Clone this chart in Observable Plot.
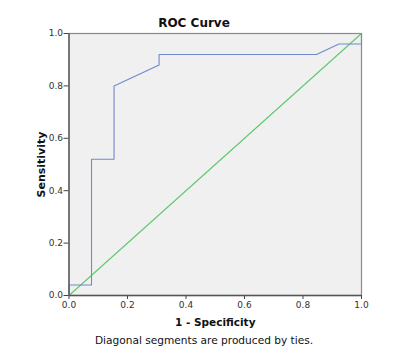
<!DOCTYPE html>
<html>
<head>
<meta charset="utf-8">
<script src="https://cdn.jsdelivr.net/npm/d3@7"></script>
<script src="https://cdn.jsdelivr.net/npm/@observablehq/plot@0.6"></script>
<style>
  html, body { margin: 0; padding: 0; background: white; }
  #wrap { position: relative; width: 407px; height: 358px; font-family: "DejaVu Sans", sans-serif; }
  #title { position: absolute; left: 0; width: 388px; top: 16px; text-align: center; font-weight: bold; font-size: 12px; color: #111; }
  #caption { position: absolute; left: 0; width: 408px; top: 334px; text-align: center; font-size: 10.6px; color: #111; }
  [aria-label="y-axis label"] text { font-weight: bold; font-size: 11px; fill: #111; }
  [aria-label="x-axis label"] text { font-weight: bold; font-size: 10.5px; fill: #111; }
</style>
</head>
<body>
<div id="wrap">
  <div id="chart"></div>
  <div id="title">ROC Curve</div>
  <div id="caption">Diagonal segments are produced by ties.</div>
</div>
<script>
const specComp = [0, 0, 0.077, 0.077, 0.154, 0.154, 0.308, 0.308, 0.846, 0.923, 1, 1];
const sensitivity = [0, 0.04, 0.04, 0.52, 0.52, 0.80, 0.88, 0.92, 0.92, 0.96, 0.96, 1];
const refX = [0, 1];
const refY = [0, 1];
const tickValues = [0, 0.2, 0.4, 0.6, 0.8, 1.0];

const roc = specComp.map((x, i) => ({x, y: sensitivity[i]}));
const ref = refX.map((x, i) => ({x, y: refY[i]}));

const chart = Plot.plot({
  width: 407,
  height: 358,
  marginLeft: 68.5,
  marginRight: 46,
  marginTop: 33,
  marginBottom: 63,
  style: { fontFamily: "DejaVu Sans, sans-serif", fontSize: "9px", color: "#333", background: "transparent" },
  x: { domain: [0, 1] },
  y: { domain: [0, 1] },
  marks: [
    Plot.frame({ fill: "#f0f0f0", stroke: "#8a8a8a", strokeWidth: 1.2 }),
    Plot.line(ref, { x: "x", y: "y", stroke: "#5ec96c", strokeWidth: 1.1 }),
    Plot.line(roc, { x: "x", y: "y", stroke: "#7189cd", strokeWidth: 1.1 }),
    Plot.axisX({ ticks: tickValues, tickFormat: ".1f", tickSize: 4, tickPadding: 2, stroke: "#444", label: "1 - Specificity", labelAnchor: "center", labelArrow: "none", labelOffset: 30 }),
    Plot.axisY({ ticks: tickValues, tickFormat: ".1f", tickSize: 5, tickPadding: 1, stroke: "#444", label: "Sensitivity", labelAnchor: "center", labelArrow: "none", labelOffset: 32 }),
    Plot.ruleX([0], { stroke: "#555", strokeWidth: 1.3 }),
    Plot.ruleY([0], { stroke: "#555", strokeWidth: 1.3 })
  ]
});
document.getElementById("chart").appendChild(chart);
</script>
</body>
</html>
